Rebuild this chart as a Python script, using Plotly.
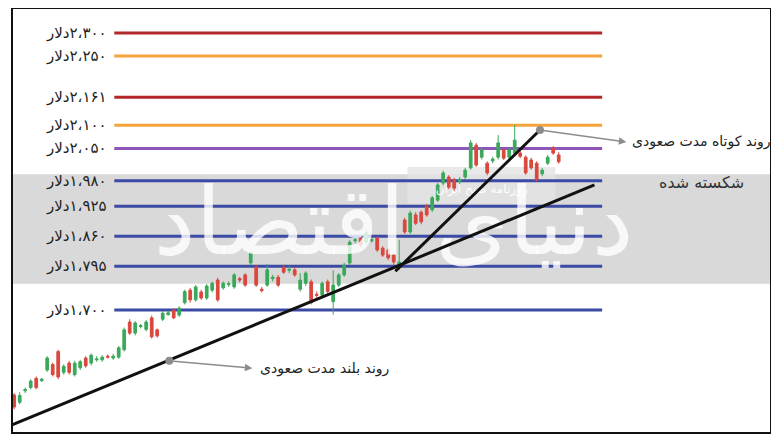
import plotly.graph_objects as go

# ---------------- data ----------------
idx = list(range(100))
opens = [1516,1500,1525,1532,1552,1547,1570,1582,1610,1565,1585,1560,1575,1596,1585,1592,1592,1600,1596,1598,
         1614,1674,1650,1664,1658,1683,1657,1680,1690,1700,1689,1716,1743,1722,1739,1726,1743,1765,1748,1755,
         1750,1768,1776,1802,1793,1745,1754,1768,1771,1793,1786,1787,1745,1758,1761,1734,1732,1761,1718,1754,
         1776,1802,1850,1856,1847,1850,1856,1834,1830,1819,1793,1895,1869,1906,1912,1925,1917,1938,1975,1988,
         1982,1978,1988,2008,2057,2031,2018,2023,2031,2047,2031,2040,2040,2031,2025,2018,1995,2018,2051,2036]
highs = [1520,1522,1532,1550,1556,1553,1600,1586,1614,1582,1590,1590,1592,1600,1606,1600,1602,1604,1605,1622,
         1662,1680,1676,1670,1678,1688,1660,1697,1698,1704,1708,1744,1748,1754,1744,1756,1762,1770,1762,1762,
         1780,1772,1780,1828,1797,1750,1800,1776,1776,1798,1796,1792,1780,1784,1766,1740,1762,1766,1786,1780,
         1802,1851,1856,1860,1873,1858,1860,1838,1834,1822,1852,1900,1915,1912,1916,1930,1947,1975,2002,1992,
         1986,1988,2008,2068,2062,2052,2022,2032,2079,2052,2052,2101,2045,2035,2030,2022,2008,2036,2055,2042]
lows = [1485,1496,1520,1528,1528,1544,1566,1556,1550,1560,1560,1556,1570,1575,1580,1588,1588,1595,1592,1594,
        1610,1646,1645,1660,1654,1638,1640,1676,1688,1680,1685,1712,1716,1718,1722,1722,1738,1718,1744,1750,
        1746,1760,1750,1798,1750,1738,1750,1762,1750,1778,1780,1772,1740,1752,1712,1725,1728,1735,1690,1750,
        1772,1798,1845,1836,1842,1846,1826,1815,1808,1798,1787,1865,1865,1884,1886,1902,1912,1934,1970,1962,
        1958,1972,1984,2004,2010,2026,1992,2018,2026,2025,2027,2036,2029,1993,2004,1978,1990,2014,2036,2017]
closes = [1490,1515,1528,1546,1532,1550,1596,1560,1555,1578,1565,1585,1588,1579,1602,1594,1598,1598,1600,1618,
          1657,1650,1672,1666,1674,1642,1644,1693,1694,1683,1704,1740,1722,1750,1726,1752,1758,1722,1758,1757,
          1776,1765,1754,1824,1754,1742,1787,1771,1754,1782,1788,1776,1765,1780,1716,1732,1758,1740,1754,1776,
          1797,1847,1852,1841,1867,1853,1830,1819,1813,1804,1804,1869,1910,1888,1891,1906,1943,1971,1997,1966,
          1964,1982,2003,2062,2014,2047,1997,2027,2062,2029,2047,2068,2033,1997,2008,1982,2003,2031,2040,2021]

levels = [2300, 2250, 2161, 2100, 2050, 1980, 1925, 1860, 1795, 1700]
level_labels = ["۲،۳۰۰", "۲،۲۵۰", "۲،۱۶۱", "۲،۱۰۰", "۲،۰۵۰", "۱،۹۸۰", "۱،۹۲۵", "۱،۸۶۰", "۱،۷۹۵", "۱،۷۰۰"]
level_colors = ["#b3262a", "#f5a33a", "#b3262a", "#f5a33a", "#8f55b8",
                "#3b4aa5", "#3b4aa5", "#3b4aa5", "#3b4aa5", "#3b4aa5"]
currency = "دلار"

long_trend_x = [-0.4, 105.5]
long_trend_y = [1451, 1971]
short_trend_x = [69.3, 95.6]
short_trend_y = [1784, 2090]

short_label = "روند کوتاه مدت صعودی"
broken_label = "شکسته شده"
long_label = "روند بلند مدت صعودی"
watermark = "دنیای اقتصاد"
watermark_small = "روزنامه صبح ایران"

GREEN = "#3aa85a"
RED = "#d9473d"
FONT = "DejaVu Sans"

fig = go.Figure()

# watermark (drawn beneath candles)
fig.add_trace(go.Scatter(x=[69], y=[1872], mode="text", text=[watermark],
                         textfont=dict(family=FONT, size=94, color="rgba(255,255,255,0.8)"),
                         hoverinfo="skip", showlegend=False))
fig.add_trace(go.Scatter(x=[85], y=[1960], mode="text", text=[watermark_small],
                         textfont=dict(family=FONT, size=12, color="rgba(255,255,255,0.95)"),
                         hoverinfo="skip", showlegend=False))

fig.add_trace(go.Candlestick(
    x=idx, open=opens, high=highs, low=lows, close=closes,
    increasing=dict(line=dict(color=GREEN, width=1), fillcolor=GREEN),
    decreasing=dict(line=dict(color=RED, width=1), fillcolor=RED),
    whiskerwidth=0, hoverinfo="skip", showlegend=False))

# trend lines
fig.add_trace(go.Scatter(x=long_trend_x, y=long_trend_y, mode="lines",
                         line=dict(color="#111111", width=3), hoverinfo="skip", showlegend=False))
fig.add_trace(go.Scatter(x=short_trend_x, y=short_trend_y, mode="lines",
                         line=dict(color="#111111", width=3), hoverinfo="skip", showlegend=False))

# marker dots
fig.add_trace(go.Scatter(x=[28.2, short_trend_x[1]], y=[1590, short_trend_y[1]], mode="markers",
                         marker=dict(color="#8c8c8c", size=8),
                         hoverinfo="skip", showlegend=False))

shapes = []
# gray band
shapes.append(dict(type="rect", xref="paper", yref="y", x0=0, x1=1, y0=1757, y1=1994,
                   fillcolor="#d9d9d9", line=dict(width=0), layer="below"))
shapes.append(dict(type="rect", xref="x", yref="y", x0=71.5, x1=98.4, y0=1930, y1=2010,
                   fillcolor="rgba(228,228,228,0.8)", line=dict(width=0), layer="below"))
for lv, col in zip(levels, level_colors):
    shapes.append(dict(type="line", xref="x", yref="y", x0=18.2, x1=106.9, y0=lv, y1=lv,
                       line=dict(color=col, width=3), layer="below"))
# frame
shapes.append(dict(type="rect", xref="paper", yref="paper", x0=0, x1=1, y0=0, y1=1,
                   line=dict(color="#111111", width=2), fillcolor="rgba(0,0,0,0)"))

annotations = []
for lv, lab in zip(levels, level_labels):
    annotations.append(dict(x=17.2, y=lv, xref="x", yref="y", text=currency + "\u200e" + lab,
                            showarrow=False, xanchor="right", yanchor="middle",
                            font=dict(family=FONT, size=15, color="#222222")))

annotations.append(dict(x=111.3, y=2064, ax=short_trend_x[1], ay=short_trend_y[1],
                        xref="x", yref="y", axref="x", ayref="y", text="",
                        showarrow=True, arrowhead=2, arrowsize=1, arrowwidth=1.5, arrowcolor="#8c8c8c"))
annotations.append(dict(x=112, y=2064, xref="x", yref="y", text=short_label, showarrow=False,
                        xanchor="left", yanchor="middle",
                        font=dict(family=FONT, size=14, color="#222222")))
annotations.append(dict(x=125, y=1977, xref="x", yref="y", text=broken_label, showarrow=False,
                        xanchor="center", yanchor="middle",
                        font=dict(family=FONT, size=16, color="#333333")))
annotations.append(dict(x=43.3, y=1574, ax=28.2, ay=1590,
                        xref="x", yref="y", axref="x", ayref="y", text="",
                        showarrow=True, arrowhead=2, arrowsize=1, arrowwidth=1.5, arrowcolor="#8c8c8c"))
annotations.append(dict(x=44.4, y=1574, xref="x", yref="y", text=long_label, showarrow=False,
                        xanchor="left", yanchor="middle",
                        font=dict(family=FONT, size=14, color="#222222")))

# page body has an 8px margin, so the figure is sized to end at the window edge
fig.update_layout(
    width=771, height=433,
    margin=dict(l=4, r=8, t=0, b=8),
    paper_bgcolor="white", plot_bgcolor="white",
    xaxis=dict(range=[-0.4, 137.6], showgrid=False, zeroline=False, showticklabels=False,
               rangeslider=dict(visible=False), fixedrange=True),
    yaxis=dict(range=[1433.6, 2354.2], showgrid=False, zeroline=False, showticklabels=False,
               fixedrange=True),
    shapes=shapes, annotations=annotations,
    font=dict(family=FONT),
)

fig.write_html("out.html")
